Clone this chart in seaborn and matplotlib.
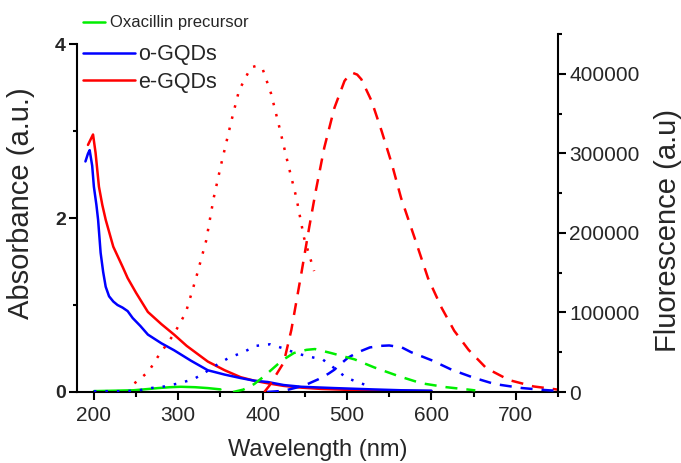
import numpy as np
import matplotlib
matplotlib.use('Agg')
import matplotlib.pyplot as plt
import seaborn as sns
from matplotlib.ticker import MultipleLocator

# absorbance (left axis)
wl_abs_e = [193, 196, 199, 202, 206, 210, 214, 223, 234, 240, 250, 264, 280, 295, 310, 335, 355, 374, 390, 406, 425, 446, 470, 500, 550, 600]
abs_e = [2.84, 2.90, 2.96, 2.75, 2.36, 2.15, 1.98, 1.67, 1.44, 1.31, 1.14, 0.92, 0.78, 0.66, 0.53, 0.35, 0.25, 0.17, 0.13, 0.10, 0.07, 0.05, 0.035, 0.025, 0.015, 0.01]

wl_abs_o = [190, 193, 195, 198, 200, 203, 205, 208, 211, 214, 218, 223, 228, 234, 240, 246, 255, 264, 280, 295, 315, 335, 355, 374, 390, 406, 425, 446, 485, 530, 564, 600]
abs_o = [2.65, 2.74, 2.78, 2.60, 2.36, 2.15, 1.98, 1.60, 1.38, 1.21, 1.10, 1.04, 1.00, 0.97, 0.93, 0.85, 0.76, 0.66, 0.56, 0.48, 0.36, 0.25, 0.20, 0.16, 0.13, 0.115, 0.08, 0.06, 0.045, 0.03, 0.02, 0.015]

wl_abs_oxa = [200, 225, 247, 265, 276, 290, 303, 320, 335, 350]
abs_oxa = [0.01, 0.015, 0.02, 0.035, 0.045, 0.055, 0.06, 0.055, 0.045, 0.03]

# fluorescence (right axis)
wl_ex_e = [248, 252, 265, 275, 295, 309, 321, 333, 342, 351, 363, 372, 386, 393, 400, 410, 420, 430, 440, 449, 455, 461]
ex_e = [11000, 14000, 26000, 43000, 73000, 100000, 143000, 190000, 244000, 287000, 341000, 379000, 408000, 410000, 406000, 375000, 332000, 287000, 244000, 194000, 173000, 152000]

wl_em_e = [402, 408, 425, 434, 446, 455, 463, 473, 485, 497, 503, 507, 512, 517, 529, 541, 553, 564, 580, 596, 612, 627, 644, 665, 692, 721, 750]
em_e = [0, 8000, 37000, 78000, 150000, 206000, 253000, 307000, 357000, 391000, 399000, 401000, 399000, 393000, 366000, 328000, 287000, 244000, 194000, 143000, 106000, 77000, 53000, 30000, 15000, 7000, 3000]

wl_ex_o = [200, 218, 236, 253, 268, 284, 301, 318, 331, 347, 360, 377, 392, 409, 424, 442, 457, 471, 485, 499, 516, 522]
ex_o = [1000, 1000, 1000, 2000, 5000, 7000, 11000, 16000, 24000, 35000, 43000, 50000, 58000, 60000, 55000, 48000, 44000, 41000, 30000, 18000, 11000, 9000]

wl_em_o = [405, 425, 449, 466, 478, 485, 490, 501, 513, 527, 540, 550, 565, 576, 600, 624, 650, 675, 707, 734, 748]
em_o = [0, 1500, 8000, 16000, 23000, 28000, 33000, 43000, 50000, 56000, 58000, 58500, 56000, 50000, 40000, 28000, 18000, 10000, 5000, 2500, 1500]

wl_em_oxa = [365, 377, 390, 402, 418, 425, 437, 452, 462, 481, 509, 532, 561, 588, 618, 644, 652]
em_oxa = [0, 3000, 10000, 20000, 35000, 41000, 49000, 53000, 54000, 49000, 41000, 31000, 20000, 11000, 6000, 3000, 2000]

RED = '#ff0000'
BLUE = '#0000ff'
GREEN = '#00ee00'

sns.set_style('ticks')
plt.rcParams['font.family'] = ['Liberation Sans', 'DejaVu Sans']

fig = plt.figure(figsize=(6.81, 4.63), dpi=100)
ax = fig.add_axes([77/681, 1-392/463, (558-77)/681, (392-34)/463])
ax2 = ax.twinx()

lw = 1.8
dot = (0, (1, 3.6))
dash = (0, (4.8, 3.6))

sns.lineplot(x=wl_abs_oxa, y=abs_oxa, ax=ax, color=GREEN, lw=lw, sort=False, estimator=None)
sns.lineplot(x=wl_abs_e, y=abs_e, ax=ax, color=RED, lw=lw, sort=False, estimator=None)
sns.lineplot(x=wl_abs_o, y=abs_o, ax=ax, color=BLUE, lw=lw, sort=False, estimator=None)
h_oxa, h_e, h_o = ax.lines[0], ax.lines[1], ax.lines[2]

sns.lineplot(x=wl_ex_e, y=ex_e, ax=ax2, color=RED, lw=lw, linestyle=dot, sort=False, estimator=None)
sns.lineplot(x=wl_em_e, y=em_e, ax=ax2, color=RED, lw=lw, linestyle=dash, sort=False, estimator=None)
sns.lineplot(x=wl_ex_o, y=ex_o, ax=ax2, color=BLUE, lw=lw, linestyle=dot, sort=False, estimator=None)
sns.lineplot(x=wl_em_o, y=em_o, ax=ax2, color=BLUE, lw=lw, linestyle=dash, sort=False, estimator=None)
sns.lineplot(x=wl_em_oxa, y=em_oxa, ax=ax2, color=GREEN, lw=lw, linestyle=dash, sort=False, estimator=None)

ax.set_xlim(180, 750)
ax.set_ylim(0, 4.115)
ax2.set_ylim(0, 450000)

for s in ['top', 'right']:
    ax.spines[s].set_visible(False)
for s in ['top', 'left', 'bottom']:
    ax2.spines[s].set_visible(False)
ax.spines['left'].set_bounds(0, 4)
for s in ['left', 'bottom']:
    ax.spines[s].set_linewidth(1.5)
    ax.spines[s].set_color('black')
ax2.spines['right'].set_linewidth(1.5)
ax2.spines['right'].set_color('black')

ax.set_xticks([200, 300, 400, 500, 600, 700])
ax.xaxis.set_minor_locator(MultipleLocator(50))
ax.set_yticks([0, 2, 4])
ax.set_yticks([1, 3], minor=True)
ax.set_yticklabels(['0', '2', '4'], fontweight='bold')
ax2.set_yticks([0, 100000, 200000, 300000, 400000])
ax2.set_yticklabels(['0', '100000', '200000', '300000', '400000'])
ax2.yaxis.set_minor_locator(MultipleLocator(50000))

ax.tick_params(axis='x', which='major', length=6, width=1.5, labelsize=15, pad=4, color='black')
ax.tick_params(axis='x', which='minor', length=3.5, width=1.5, color='black')
ax.tick_params(axis='y', which='major', length=6, width=1.5, labelsize=14, pad=2, color='black')
ax.tick_params(axis='y', which='minor', length=3, width=1.5, color='black')
ax2.tick_params(axis='y', which='major', length=6, width=1.5, labelsize=15, pad=2, color='black')
ax2.tick_params(axis='y', which='minor', length=3, width=1.5, color='black')

ax.set_xlabel('Wavelength (nm)', fontsize=17)
ax.xaxis.set_label_coords(0.5, -0.13)
ax.set_ylabel('Absorbance (a.u.)', fontsize=21)
ax.yaxis.set_label_coords(-0.087, 0.528)
ax2.set_ylabel('Fluorescence (a.u)', fontsize=21)
ax2.yaxis.set_label_coords(1.2, 0.45)

fig.legend(handles=[h_oxa], labels=['Oxacillin precursor'], loc='center left',
           bbox_to_anchor=(83/681, 1-23/463), frameon=False, fontsize=12,
           handlelength=1.3, handletextpad=0.3, borderpad=0, borderaxespad=0)
fig.legend(handles=[h_o, h_e], labels=['o-GQDs', 'e-GQDs'], loc='center left',
           bbox_to_anchor=(83/681, 1-68.5/463), frameon=False, fontsize=15.5,
           handlelength=2.4, handletextpad=0.15, labelspacing=0.3, borderpad=0, borderaxespad=0)

fig.savefig('out.png', dpi=100)
